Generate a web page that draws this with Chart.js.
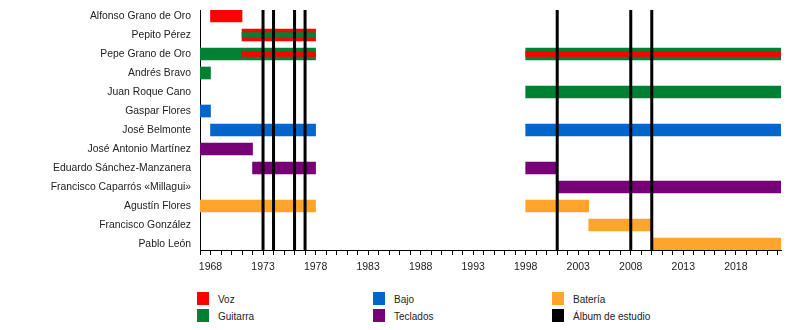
<!DOCTYPE html>
<html>
<head>
<meta charset="utf-8">
<script src="https://cdn.jsdelivr.net/npm/chart.js@4/dist/chart.umd.min.js"></script>
<style>
  body { margin: 0; background: #fff; font-family: "Liberation Sans", Arial, sans-serif; }
  #wrap { position: relative; width: 800px; height: 330px; }
  .key { position: absolute; font-size: 10px; color: #222; line-height: 13px; }
  .key span { position: absolute; left: 0; top: 0; width: 12px; height: 13px; }
  .key b { position: absolute; left: 21px; top: 1px; font-weight: normal; white-space: nowrap; }
</style>
</head>
<body>
<div id="wrap">
  <canvas id="myChart" width="800" height="280"></canvas>
  <div id="legend"></div>
</div>
<script>
var members = ['Alfonso Grano de Oro', 'Pepito Pérez', 'Pepe Grano de Oro', 'Andrés Bravo',
    'Juan Roque Cano', 'Gaspar Flores', 'José Belmonte', 'José Antonio Martínez',
    'Eduardo Sánchez-Manzanera', 'Francisco Caparrós «Millagui»', 'Agustín Flores',
    'Francisco González', 'Pablo León'];

var START = 1967, END = 2022.3;

// [member, from, to]
var voz = [['Alfonso Grano de Oro', 1968, 1971], ['Pepito Pérez', 1971, 1978]];
var guitarra = [['Pepe Grano de Oro', 1967, 1978], ['Pepe Grano de Oro', 1998, END],
    ['Andrés Bravo', 1967, 1968], ['Juan Roque Cano', 1998, END]];
var bajo = [['Gaspar Flores', 1967, 1968], ['José Belmonte', 1968, 1978], ['José Belmonte', 1998, END]];
var teclados = [['José Antonio Martínez', 1967, 1972], ['Eduardo Sánchez-Manzanera', 1972, 1978],
    ['Eduardo Sánchez-Manzanera', 1998, 2001], ['Francisco Caparrós «Millagui»', 2001, END]];
var bateria = [['Agustín Flores', 1967, 1978], ['Agustín Flores', 1998, 2004],
    ['Francisco González', 2004, 2010], ['Pablo León', 2010, END]];
// second role drawn as a thin stripe
var vozStripe = [['Pepe Grano de Oro', 1971, 1978], ['Pepe Grano de Oro', 1998, END]];
var guitarraStripe = [['Pepito Pérez', 1971, 1978]];
var albums = [1973, 1974, 1976, 1977, 2001, 2008, 2010];

var colors = { voz: '#ff0000', guitarra: '#008033', bajo: '#0066cc', teclados: '#770077', bateria: '#ffa52a', album: '#000000' };
var legendItems = [['Voz', colors.voz], ['Guitarra', colors.guitarra], ['Bajo', colors.bajo],
    ['Teclados', colors.teclados], ['Batería', colors.bateria], ['Álbum de estudio', colors.album]];

var YMIN = -0.316, YMAX = 12.316;

function spans(list) {
    return list.map(function (s) { return { x: [s[1], s[2]], y: members.indexOf(s[0]) }; });
}
function bars(list, color, thick) {
    return {
        type: 'bar', indexAxis: 'y', grouped: false, order: thick < 12 ? 1 : 2,
        backgroundColor: color, borderWidth: 0, barThickness: thick,
        data: spans(list)
    };
}

var datasets = [
    bars(voz, colors.voz, 12),
    bars(guitarra, colors.guitarra, 12),
    bars(bajo, colors.bajo, 12),
    bars(teclados, colors.teclados, 12),
    bars(bateria, colors.bateria, 12),
    bars(vozStripe, colors.voz, 5),
    bars(guitarraStripe, colors.guitarra, 5)
];
albums.forEach(function (yr) {
    datasets.push({
        type: 'line', order: 0, borderColor: colors.album, borderWidth: 3,
        pointRadius: 0, data: [{ x: yr, y: YMIN }, { x: yr, y: YMAX }]
    });
});

var ctx = document.getElementById('myChart').getContext('2d');
var chart = new Chart(ctx, {
    type: 'bar',
    data: { datasets: datasets },
    options: {
        responsive: false,
        animation: false,
        layout: { padding: { top: 10, right: 19, left: 0, bottom: 0 } },
        plugins: { legend: { display: false }, tooltip: { enabled: false } },
        scales: {
            x: {
                type: 'linear', min: START, max: END, offset: false,
                afterFit: function (s) { s.height = 30; },
                afterBuildTicks: function (s) {
                    var t = [];
                    for (var v = START; v <= 2022; v++) t.push({ value: v });
                    s.ticks = t;
                },
                grid: { drawOnChartArea: false, offset: false, tickLength: 5, tickColor: '#000', tickWidth: 1 },
                border: { color: '#000', width: 1 },
                ticks: {
                    autoSkip: false, maxRotation: 0, padding: 6, color: '#222',
                    font: { family: 'Liberation Sans', size: 10.5 },
                    callback: function (v) { return (v - 1968) % 5 === 0 ? String(v) : ''; }
                }
            },
            y: {
                type: 'linear', reverse: true, min: YMIN, max: YMAX, offset: false,
                afterFit: function (s) {
                    s.width = 200;
                    s.paddingTop = 0;
                    s.paddingBottom = 0;
                },
                afterBuildTicks: function (s) {
                    s.ticks = members.map(function (m, i) { return { value: i }; });
                },
                grid: { display: false, drawTicks: false },
                border: { color: '#000', width: 1 },
                ticks: {
                    autoSkip: false, padding: 9, color: '#222',
                    font: { family: 'Liberation Sans', size: 10.4 },
                    callback: function (v) { return members[v]; }
                }
            }
        }
    }
});

// legend: three columns of two entries
var legend = document.getElementById('legend');
var colX = [197, 373, 552], rowY = [292, 309];
legendItems.forEach(function (item, i) {
    var d = document.createElement('div');
    d.className = 'key';
    d.style.left = colX[Math.floor(i / 2)] + 'px';
    d.style.top = rowY[i % 2] + 'px';
    d.innerHTML = '<span style="background:' + item[1] + '"></span><b>' + item[0] + '</b>';
    legend.appendChild(d);
});
</script>
</body>
</html>
